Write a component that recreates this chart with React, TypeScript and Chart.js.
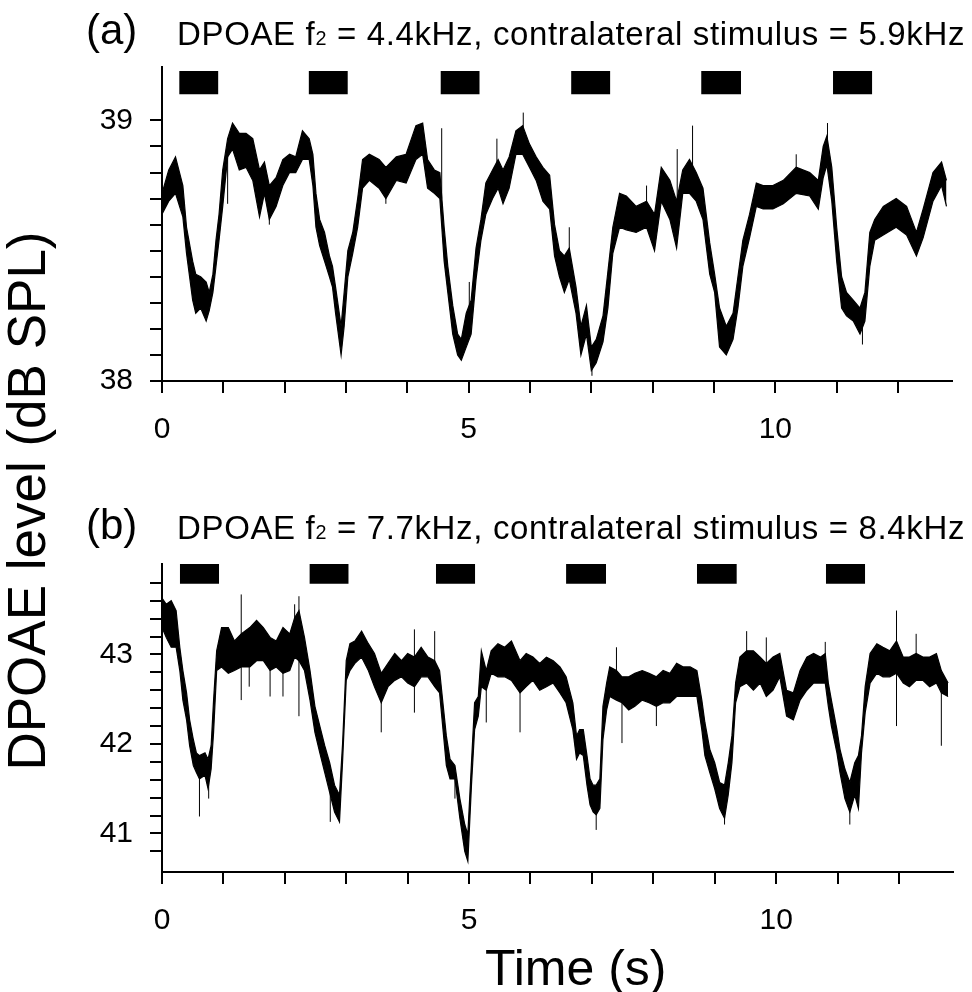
import React, { useEffect, useRef } from 'react';
import { Chart, registerables } from 'chart.js';

Chart.register(...registerables);

const FONT = "'Liberation Sans', Arial, Helvetica, sans-serif";

// ---------- shared axis ticks ----------
const xRange = [0, 12.88];
const xTickLabels = [0, 5, 10];

// ---------- panel (a): f2 = 4.4 kHz ----------
const timeA = [
  0.00, 0.11, 0.22, 0.34, 0.40, 0.50, 0.55, 0.63, 0.72, 0.77,
  0.83, 0.88, 0.93, 0.99, 1.07, 1.15, 1.26, 1.37, 1.48, 1.59,
  1.67, 1.75, 1.86, 1.97, 2.08, 2.18, 2.29, 2.40, 2.46, 2.51,
  2.57, 2.65, 2.73, 2.78, 2.83, 2.92, 2.97, 3.03, 3.11, 3.19,
  3.27, 3.38, 3.54, 3.65, 3.82, 3.98, 4.14, 4.25, 4.33, 4.44,
  4.53, 4.60, 4.66, 4.74, 4.82, 4.88, 4.96, 5.04, 5.12, 5.20,
  5.28, 5.39, 5.48, 5.56, 5.66, 5.77, 5.88, 5.99, 6.10, 6.21,
  6.32, 6.40, 6.48, 6.56, 6.64, 6.75, 6.83, 6.92, 7.00, 7.08,
  7.19, 7.27, 7.35, 7.46, 7.57, 7.73, 7.90, 8.03, 8.14, 8.28,
  8.39, 8.49, 8.60, 8.71, 8.82, 8.93, 9.01, 9.09, 9.20, 9.31,
  9.39, 9.47, 9.58, 9.69, 9.80, 9.96, 10.13, 10.34, 10.56, 10.70,
  10.78, 10.84, 10.92, 11.00, 11.08, 11.16, 11.27, 11.38, 11.46, 11.54,
  11.62, 11.76, 11.97, 12.14, 12.30, 12.41, 12.57, 12.71, 12.79,
];
const upperA = [
  38.72, 38.81, 38.86, 38.75, 38.59, 38.46, 38.41, 38.40, 38.38, 38.34,
  38.41, 38.54, 38.64, 38.81, 38.93, 38.99, 38.95, 38.95, 38.93, 38.81,
  38.84, 38.75, 38.78, 38.85, 38.87, 38.86, 38.96, 38.93, 38.87, 38.72,
  38.62, 38.57, 38.48, 38.44, 38.36, 38.21, 38.34, 38.50, 38.57, 38.70,
  38.85, 38.87, 38.85, 38.82, 38.86, 38.87, 38.98, 38.99, 38.85, 38.81,
  38.80, 38.59, 38.44, 38.29, 38.18, 38.16, 38.26, 38.31, 38.51, 38.62,
  38.76, 38.81, 38.85, 38.81, 38.86, 38.96, 38.98, 38.91, 38.86, 38.82,
  38.79, 38.60, 38.50, 38.48, 38.51, 38.36, 38.21, 38.29, 38.13, 38.16,
  38.25, 38.42, 38.59, 38.72, 38.71, 38.67, 38.69, 38.64, 38.82, 38.77,
  38.69, 38.81, 38.85, 38.80, 38.74, 38.53, 38.41, 38.28, 38.21, 38.26,
  38.40, 38.54, 38.64, 38.76, 38.75, 38.75, 38.77, 38.82, 38.80, 38.77,
  38.90, 38.94, 38.82, 38.59, 38.40, 38.34, 38.31, 38.28, 38.34, 38.57,
  38.62, 38.67, 38.70, 38.67, 38.57, 38.66, 38.80, 38.84, 38.77,
];
const lowerA = [
  38.64, 38.69, 38.72, 38.63, 38.49, 38.31, 38.26, 38.28, 38.23, 38.27,
  38.34, 38.44, 38.54, 38.67, 38.86, 38.89, 38.81, 38.82, 38.77, 38.63,
  38.72, 38.62, 38.67, 38.75, 38.80, 38.80, 38.85, 38.85, 38.75, 38.59,
  38.52, 38.46, 38.40, 38.36, 38.26, 38.10, 38.21, 38.40, 38.49, 38.59,
  38.74, 38.77, 38.74, 38.70, 38.77, 38.76, 38.85, 38.87, 38.74, 38.72,
  38.70, 38.46, 38.34, 38.18, 38.10, 38.08, 38.13, 38.18, 38.39, 38.54,
  38.64, 38.70, 38.74, 38.68, 38.74, 38.87, 38.87, 38.82, 38.77, 38.69,
  38.66, 38.48, 38.40, 38.34, 38.39, 38.26, 38.10, 38.18, 38.04, 38.07,
  38.15, 38.28, 38.49, 38.59, 38.58, 38.57, 38.59, 38.50, 38.69, 38.62,
  38.51, 38.72, 38.72, 38.69, 38.62, 38.41, 38.34, 38.13, 38.10, 38.16,
  38.28, 38.44, 38.55, 38.67, 38.66, 38.66, 38.68, 38.72, 38.71, 38.66,
  38.78, 38.83, 38.69, 38.46, 38.28, 38.25, 38.23, 38.18, 38.23, 38.44,
  38.54, 38.56, 38.59, 38.56, 38.48, 38.55, 38.69, 38.75, 38.67,
];
const spikeTimeA = [1.07, 1.75, 3.65, 4.56, 5.01, 5.46, 5.89, 6.64, 7.01, 7.90, 8.40, 8.65, 10.34, 10.85, 11.42];
const spikeLowA = [38.68, 38.60, 38.68, 38.70, 38.20, 38.80, 38.90, 38.45, 38.02, 38.65, 38.60, 38.80, 38.78, 38.85, 38.14];
const spikeHighA = [38.90, 38.75, 38.82, 38.97, 38.38, 38.93, 39.03, 38.59, 38.10, 38.75, 38.89, 38.98, 38.87, 38.99, 38.25];
const stimOnA = [0.28, 2.39, 4.54, 6.67, 8.79, 10.94];
const stimOffA = [0.92, 3.03, 5.18, 7.31, 9.44, 11.58];
const stimLevelA = [39.10, 39.19];
const yRangeA = [38.0, 39.205];
const yTickStepA = 0.1;
const yTickSpanA = [38.0, 39.0];
const yTickLabelsA = [38, 39];

// ---------- panel (b): f2 = 7.7 kHz ----------
const timeB = [
  0.00, 0.07, 0.15, 0.23, 0.29, 0.34, 0.40, 0.45, 0.51, 0.56,
  0.61, 0.70, 0.75, 0.80, 0.84, 0.89, 0.97, 1.08, 1.18, 1.29,
  1.43, 1.54, 1.65, 1.76, 1.86, 1.97, 2.08, 2.16, 2.23, 2.32,
  2.41, 2.49, 2.57, 2.65, 2.73, 2.81, 2.89, 2.94, 3.00, 3.06,
  3.14, 3.25, 3.36, 3.46, 3.57, 3.68, 3.79, 3.90, 4.00, 4.11,
  4.22, 4.33, 4.44, 4.52, 4.58, 4.63, 4.69, 4.77, 4.85, 4.93,
  4.98, 5.04, 5.09, 5.15, 5.20, 5.28, 5.36, 5.47, 5.58, 5.69,
  5.83, 5.93, 6.04, 6.15, 6.26, 6.37, 6.48, 6.58, 6.69, 6.75,
  6.80, 6.86, 6.92, 6.97, 7.02, 7.07, 7.13, 7.18, 7.24, 7.29,
  7.40, 7.49, 7.60, 7.70, 7.82, 7.93, 8.05, 8.16, 8.27, 8.38,
  8.49, 8.60, 8.71, 8.79, 8.84, 8.92, 9.00, 9.08, 9.16, 9.22,
  9.28, 9.34, 9.41, 9.52, 9.63, 9.74, 9.84, 9.95, 10.06, 10.17,
  10.28, 10.39, 10.50, 10.61, 10.72, 10.80, 10.85, 10.90, 10.99, 11.04,
  11.12, 11.20, 11.28, 11.34, 11.39, 11.45, 11.53, 11.64, 11.74, 11.85,
  11.96, 12.07, 12.17, 12.28, 12.39, 12.50, 12.61, 12.69, 12.80,
];
const upperB = [
  43.63, 43.56, 43.60, 43.49, 43.08, 42.82, 42.57, 42.27, 42.05, 41.90,
  41.87, 41.90, 41.83, 41.98, 42.49, 43.04, 43.30, 43.30, 43.15, 43.23,
  43.30, 43.38, 43.30, 43.19, 43.15, 43.30, 43.23, 43.41, 43.49, 43.19,
  42.82, 42.42, 42.20, 41.98, 41.79, 41.54, 41.43, 42.00, 42.93, 43.12,
  43.15, 43.26, 43.12, 43.01, 42.79, 42.90, 43.01, 42.93, 43.01, 42.97,
  43.08, 42.97, 42.93, 42.82, 42.42, 42.09, 41.83, 41.76, 41.39, 41.10,
  40.99, 41.80, 42.46, 42.53, 43.04, 42.82, 43.04, 43.12, 43.08, 43.15,
  42.93, 43.01, 42.97, 42.90, 42.97, 42.93, 42.86, 42.75, 42.46, 42.09,
  42.16, 42.16, 41.87, 41.61, 41.54, 41.54, 41.61, 42.42, 42.68, 42.86,
  42.82, 42.75, 42.75, 42.79, 42.82, 42.79, 42.75, 42.82, 42.79, 42.90,
  42.86, 42.86, 42.82, 42.49, 42.24, 41.94, 41.79, 41.57, 41.54, 41.79,
  42.09, 42.68, 42.97, 43.04, 43.04, 42.97, 42.90, 42.97, 43.01, 42.60,
  42.57, 42.82, 42.97, 43.01, 42.97, 43.01, 42.68, 42.49, 42.16, 41.94,
  41.72, 41.57, 41.79, 41.87, 42.09, 42.64, 43.01, 43.12, 43.08, 43.04,
  43.15, 42.97, 42.97, 43.01, 42.97, 42.97, 43.01, 42.82, 42.68,
];
const lowerB = [
  43.30, 43.19, 43.08, 43.08, 42.82, 42.49, 42.27, 41.98, 41.76, 41.68,
  41.61, 41.65, 41.50, 41.72, 42.13, 42.82, 42.86, 42.79, 42.82, 42.86,
  42.86, 42.93, 42.93, 42.82, 42.86, 42.79, 42.82, 42.97, 42.93, 42.82,
  42.49, 42.13, 41.90, 41.68, 41.46, 41.24, 41.13, 41.80, 42.71, 42.82,
  42.90, 42.97, 42.82, 42.64, 42.46, 42.64, 42.71, 42.75, 42.68, 42.64,
  42.75, 42.75, 42.64, 42.57, 42.13, 41.76, 41.61, 41.61, 41.17, 40.80,
  40.69, 41.55, 42.16, 42.31, 42.64, 42.60, 42.79, 42.75, 42.75, 42.71,
  42.57, 42.64, 42.71, 42.60, 42.64, 42.68, 42.57, 42.46, 42.16, 41.83,
  41.90, 41.87, 41.54, 41.32, 41.24, 41.21, 41.28, 42.05, 42.38, 42.53,
  42.49, 42.46, 42.38, 42.42, 42.49, 42.46, 42.42, 42.46, 42.46, 42.53,
  42.53, 42.53, 42.53, 42.16, 41.87, 41.68, 41.50, 41.28, 41.17, 41.43,
  41.79, 42.46, 42.64, 42.68, 42.60, 42.68, 42.53, 42.60, 42.75, 42.31,
  42.27, 42.49, 42.60, 42.68, 42.68, 42.68, 42.42, 42.20, 41.90, 41.68,
  41.39, 41.24, 41.43, 41.28, 41.90, 42.35, 42.68, 42.79, 42.75, 42.75,
  42.79, 42.68, 42.64, 42.71, 42.71, 42.64, 42.68, 42.57, 42.53,
];
const spikeTimeB = [0.61, 0.76, 1.29, 1.42, 1.76, 1.97, 2.16, 2.23, 2.74, 3.57, 4.11, 4.44, 4.77, 5.28, 5.83, 7.07, 7.40, 7.49, 8.05, 9.16, 9.52, 9.84, 10.80, 11.20, 11.96, 12.28, 12.69];
const spikeLowB = [41.19, 41.39, 42.49, 42.64, 42.53, 42.53, 43.00, 42.31, 41.13, 42.13, 42.35, 42.70, 41.39, 42.24, 42.13, 41.04, 42.80, 42.01, 42.20, 41.10, 43.00, 42.90, 43.00, 41.10, 42.20, 43.00, 41.98];
const spikeHighB = [41.70, 41.60, 43.67, 42.90, 42.85, 42.85, 43.56, 43.65, 41.50, 42.50, 43.28, 43.26, 41.65, 42.60, 42.60, 41.30, 43.08, 42.46, 42.45, 41.20, 43.26, 43.19, 43.14, 41.30, 43.49, 43.23, 42.60];
const stimOnB = [0.29, 2.40, 4.46, 6.58, 8.71, 10.81];
const stimOffB = [0.93, 3.04, 5.10, 7.23, 9.36, 11.45];
const stimLevelB = [43.79, 44.01];
const yRangeB = [40.57, 44.01];
const yTickStepB = 0.2;
const yTickSpanB = [40.8, 43.8];
const yTickLabelsB = [41, 42, 43];

type PanelProps = {
  top: number;
  height: number;
  padTop: number;
  padRight: number;
  xAxisH: number;
  time: number[];
  upper: number[];
  lower: number[];
  spikeT: number[];
  spikeLo: number[];
  spikeHi: number[];
  stimOn: number[];
  stimOff: number[];
  stimLevel: number[];
  yRange: number[];
  yStep: number;
  ySpan: number[];
  yLabels: number[];
};

const isLabel = (v: number, labels: number[]) =>
  labels.some((l) => Math.abs(l - v) < 1e-6);

function Panel(p: PanelProps) {
  const ref = useRef<HTMLCanvasElement | null>(null);
  useEffect(() => {
    if (!ref.current) return;
    const n = Math.min(p.time.length, p.upper.length, p.lower.length);
    const up: any[] = [];
    const lo: any[] = [];
    for (let i = 0; i < n; i++) {
      up.push({ x: p.time[i], y: p.upper[i] });
      lo.push({ x: p.time[i], y: p.lower[i] });
    }
    const sp: any[] = [];
    const m = Math.min(p.spikeT.length, p.spikeLo.length, p.spikeHi.length);
    for (let i = 0; i < m; i++) {
      sp.push({ x: p.spikeT[i], y: p.spikeLo[i] });
      sp.push({ x: p.spikeT[i], y: p.spikeHi[i] });
      sp.push({ x: p.spikeT[i], y: null });
    }
    const stimSets = p.stimOn.map((on, i) => ({
      data: [
        { x: on, y: p.stimLevel[1] },
        { x: p.stimOff[i], y: p.stimLevel[1] },
      ],
      borderWidth: 0,
      borderColor: '#000',
      backgroundColor: '#000',
      pointRadius: 0,
      fill: { value: p.stimLevel[0] },
      clip: false as any,
    }));
    const line = {
      borderColor: '#000',
      borderWidth: 1.2,
      pointRadius: 0,
      tension: 0,
    };
    const chart = new Chart(ref.current, {
      type: 'line',
      data: {
        datasets: [
          { ...line, data: up, fill: '+1', backgroundColor: '#000' },
          { ...line, data: lo, fill: false },
          { ...line, borderWidth: 1, data: sp, fill: false, spanGaps: false },
          ...stimSets,
        ] as any,
      },
      options: {
        animation: false,
        responsive: false,
        maintainAspectRatio: false,
        events: [],
        layout: { padding: { left: 0, right: p.padRight, top: p.padTop, bottom: 0 } },
        plugins: { legend: { display: false }, tooltip: { enabled: false }, title: { display: false } },
        scales: {
          x: {
            type: 'linear',
            min: xRange[0],
            max: xRange[1],
            afterFit: (s: any) => {
              s.height = p.xAxisH;
            },
            border: { display: true, color: '#000', width: 2 },
            grid: { drawOnChartArea: false, drawTicks: true, tickLength: 12, color: '#000', lineWidth: 2 },
            ticks: {
              stepSize: 1,
              autoSkip: false,
              includeBounds: false,
              maxRotation: 0,
              minRotation: 0,
              padding: 19,
              color: '#000',
              font: { family: FONT, size: 30 },
              callback: (v: any) => (isLabel(Number(v), xTickLabels) ? String(Math.round(Number(v))) : ''),
            },
          },
          y: {
            type: 'linear',
            min: p.yRange[0],
            max: p.yRange[1],
            afterFit: (s: any) => {
              s.width = 162;
            },
            afterBuildTicks: (s: any) => {
              s.ticks = s.ticks.filter(
                (t: any) => t.value >= p.ySpan[0] - 1e-6 && t.value <= p.ySpan[1] + 1e-6,
              );
            },
            border: { display: true, color: '#000', width: 2 },
            grid: { drawOnChartArea: false, drawTicks: true, tickLength: 12, color: '#000', lineWidth: 2 },
            ticks: {
              stepSize: p.yStep,
              autoSkip: false,
              includeBounds: false,
              padding: 17,
              color: '#000',
              font: { family: FONT, size: 30 },
              callback: (v: any) => (isLabel(Number(v), p.yLabels) ? String(Math.round(Number(v))) : ''),
            },
          },
        },
      } as any,
    });
    return () => chart.destroy();
  }, []);
  return (
    <canvas
      ref={ref}
      width={972}
      height={p.height}
      style={{ position: 'absolute', left: 0, top: p.top, width: 972, height: p.height, display: 'block' }}
    />
  );
}

const textBase: React.CSSProperties = {
  position: 'absolute',
  fontFamily: FONT,
  color: '#000',
  whiteSpace: 'nowrap',
  lineHeight: 1,
  zIndex: 2,
};

function Title(props: { top: number; left: number; f2: string; stim: string }) {
  return (
    <div style={{ ...textBase, top: props.top, left: props.left, fontSize: 33, letterSpacing: '0.65px' }}>
      DPOAE f<span style={{ fontSize: '0.6em' }}>2</span> = {props.f2}, contralateral stimulus = {props.stim}
    </div>
  );
}

export default function App() {
  return (
    <div
      style={{
        position: 'fixed',
        left: 0,
        top: 0,
        width: 972,
        height: 992,
        background: '#fff',
        overflow: 'hidden',
      }}
    >
      <Panel
        top={0}
        height={470}
        padTop={67}
        padRight={20}
        xAxisH={89}
        time={timeA}
        upper={upperA}
        lower={lowerA}
        spikeT={spikeTimeA}
        spikeLo={spikeLowA}
        spikeHi={spikeHighA}
        stimOn={stimOnA}
        stimOff={stimOffA}
        stimLevel={stimLevelA}
        yRange={yRangeA}
        yStep={yTickStepA}
        ySpan={yTickSpanA}
        yLabels={yTickLabelsA}
      />
      <Panel
        top={490}
        height={470}
        padTop={74}
        padRight={19}
        xAxisH={88}
        time={timeB}
        upper={upperB}
        lower={lowerB}
        spikeT={spikeTimeB}
        spikeLo={spikeLowB}
        spikeHi={spikeHighB}
        stimOn={stimOnB}
        stimOff={stimOffB}
        stimLevel={stimLevelB}
        yRange={yRangeB}
        yStep={yTickStepB}
        ySpan={yTickSpanB}
        yLabels={yTickLabelsB}
      />
      <div style={{ ...textBase, top: 9, left: 86, fontSize: 42 }}>(a)</div>
      <Title top={17} left={177} f2="4.4kHz" stim="5.9kHz" />
      <div style={{ ...textBase, top: 504, left: 86, fontSize: 42 }}>(b)</div>
      <Title top={511} left={177} f2="7.7kHz" stim="8.4kHz" />
      <div style={{ ...textBase, top: 943, left: 485, fontSize: 50 }}>Time (s)</div>
      <div
        style={{
          ...textBase,
          left: 27 - 320,
          top: 501 - 30,
          width: 640,
          height: 60,
          lineHeight: '60px',
          fontSize: 53,
          textAlign: 'center',
          transform: 'rotate(-90deg)',
        }}
      >
        DPOAE level (dB SPL)
      </div>
    </div>
  );
}
